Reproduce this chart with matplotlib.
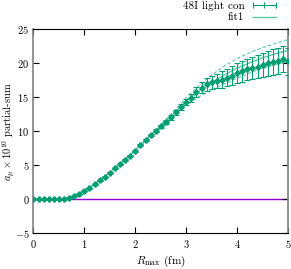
import numpy as np
import matplotlib
matplotlib.use("Agg")
import matplotlib.pyplot as plt
from matplotlib.lines import Line2D

plt.rcParams['font.family'] = 'serif'
plt.rcParams['font.serif'] = ['cmr10']
plt.rcParams['mathtext.fontset'] = 'cm'
plt.rcParams['axes.formatter.use_mathtext'] = True
plt.rcParams['font.size'] = 8

# lattice data: partial sum vs R_max
r_max = [round(0.1 * i, 1) for i in range(51)]
partial_sum = [0.0, 0.0, 0.0, 0.0, 0.0, 0.02, 0.05, 0.2, 0.5, 0.85,
               1.2, 1.6, 2.2, 2.8, 3.3, 3.9, 4.55, 5.15, 5.8, 6.4,
               7.15, 8.0, 8.7, 9.45, 10.1, 10.75, 11.4, 12.05, 12.8, 13.6,
               14.3, 14.9, 15.8, 16.4, 16.9, 17.2, 17.4, 17.6, 17.9, 18.2,
               18.55, 18.85, 19.1, 19.35, 19.5, 19.75, 20.0, 20.2, 20.4, 20.6,
               20.3]
errors = [0.0, 0.0, 0.0, 0.0, 0.0, 0.0, 0.0, 0.0, 0.0, 0.0,
          0.0, 0.02, 0.03, 0.04, 0.05, 0.06, 0.07, 0.08, 0.09, 0.1,
          0.12, 0.14, 0.16, 0.18, 0.2, 0.25, 0.3, 0.35, 0.4, 0.45,
          0.5, 0.6, 0.7, 0.8, 0.9, 1.0, 1.1, 1.2, 1.3, 1.4,
          1.5, 1.55, 1.6, 1.65, 1.7, 1.75, 1.8, 1.85, 1.9, 1.95,
          2.0]

# fit curve with upper/lower band
fit_x = [0.0, 0.25, 0.5, 0.75, 1.0, 1.25, 1.5, 1.75, 2.0, 2.25, 2.5,
         2.75, 3.0, 3.25, 3.5, 3.75, 4.0, 4.25, 4.5, 4.75, 5.0]
fit_mid = [0.0, 0.0, 0.02, 0.3, 1.2, 2.5, 3.9, 5.5, 7.2, 9.0, 10.8,
           12.6, 14.4, 15.9, 17.2, 18.3, 19.3, 20.1, 20.8, 21.4, 21.9]
fit_hi = [0.0, 0.0, 0.02, 0.3, 1.2, 2.5, 3.9, 5.5, 7.25, 9.1, 11.0,
          12.9, 14.9, 16.7, 18.3, 19.6, 20.7, 21.6, 22.3, 22.9, 23.5]
fit_lo = [0.0, 0.0, 0.02, 0.3, 1.2, 2.5, 3.9, 5.5, 7.15, 8.9, 10.6,
          12.3, 13.9, 15.1, 16.1, 17.0, 17.8, 18.6, 19.3, 19.8, 20.3]

green = '#009e73'
light = '#5cc7a6'

fig = plt.figure(figsize=(2.91, 2.69), dpi=100)
ax = fig.add_axes([0.115, 0.1327, 0.875, 0.7583])

ax.axhline(0, color='#9400d3', lw=1, zorder=1)
ax.plot(fit_x, fit_mid, color=light, lw=1, zorder=2)
ax.plot(fit_x, fit_hi, color=light, lw=0.8, ls=(0, (3, 2)), zorder=2)
ax.plot(fit_x, fit_lo, color=light, lw=0.8, ls=(0, (3, 2)), zorder=2)
ax.errorbar(r_max, partial_sum, yerr=errors, fmt='P', color=green,
            markersize=3.5, elinewidth=0.8, capsize=2.5, capthick=0.8,
            zorder=3)

ax.set_xlim(0, 5)
ax.set_ylim(-5, 25)
ax.set_xticks([0, 1, 2, 3, 4, 5])
ax.set_yticks([-5, 0, 5, 10, 15, 20, 25])
ax.tick_params(direction='in', top=True, right=True, length=4, width=0.8,
               labelsize=7.5)
ax.tick_params(axis='y', pad=3)
ax.spines['left'].set_color('#808080')
ax.spines['right'].set_color('#808080')
ax.spines['left'].set_linewidth(1.2)
ax.spines['right'].set_linewidth(1.2)
ax.set_xlabel(r'$R_{\max}$ (fm)')
ax.set_ylabel(r'$a_\mu \times 10^{10}$ partial-sum', fontsize=7.5)
ax.xaxis.set_label_coords(0.5, -0.1)
ax.yaxis.set_label_coords(-0.07, 0.5)

handles = [Line2D([], [], color=green, lw=0.8, marker='|', markersize=5,
                  markeredgewidth=0.8),
           Line2D([], [], color=light, lw=1)]
ax.legend(handles, ['48I light con', 'fit1'], loc='upper right',
          bbox_to_anchor=(0.985, 1.025), bbox_transform=fig.transFigure,
          frameon=False, markerfirst=False, numpoints=3,
          handlelength=2.6, handletextpad=0.5, labelspacing=0.15,
          borderpad=0.2)

fig.savefig('out.png', dpi=100)
